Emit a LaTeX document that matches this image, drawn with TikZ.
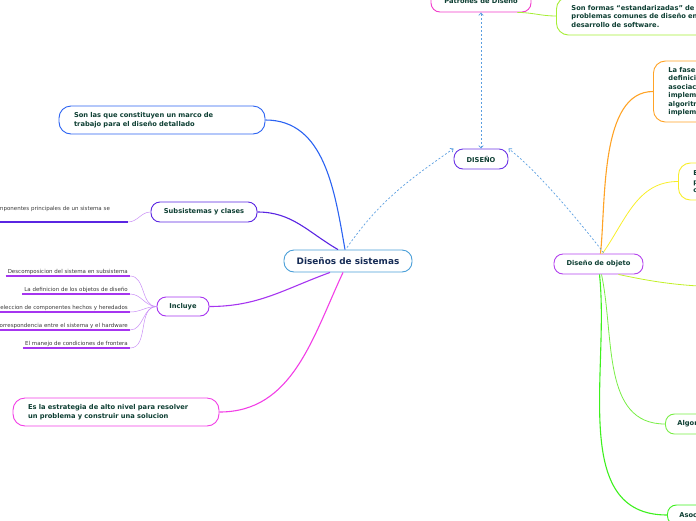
\documentclass[tikz,border=0pt]{standalone}
\usepackage{fontspec}
\setmainfont{DejaVu Sans}
\usepackage{xcolor}
\usepackage{tikz}
\usetikzlibrary{arrows.meta, positioning}

\definecolor{sysblue}{HTML}{4A9FD8}
\definecolor{navy}{HTML}{152B55}
\definecolor{topicgreen}{HTML}{0E3F33}
\definecolor{branchblue}{HTML}{2B63F2}
\definecolor{branchindigo}{HTML}{5A25E2}
\definecolor{branchviolet}{HTML}{A635F0}
\definecolor{leafviolet}{HTML}{C98EF6}
\definecolor{branchmagenta}{HTML}{F23EE6}
\definecolor{diseviolet}{HTML}{6C35E6}
\definecolor{patpink}{HTML}{F23BCB}
\definecolor{limegreen}{HTML}{A6EE35}
\definecolor{objviolet}{HTML}{B444EE}
\definecolor{faseorange}{HTML}{FFA326}
\definecolor{faseyellow}{HTML}{F8EE2A}
\definecolor{leaflime}{HTML}{C2F028}
\definecolor{algogreen}{HTML}{78EE45}
\definecolor{asocgreen}{HTML}{3EF01E}
\definecolor{dotblue}{HTML}{5A9EE0}
\definecolor{leafgray}{HTML}{3A3A3A}

\begin{document}
\begin{tikzpicture}[
    x=1pt, y=-1pt,
    topic/.style={draw, rounded corners=9pt, fill=white, line width=0.9pt,
                  inner sep=0pt, text=topicgreen,
                  font=\fontsize{6.7}{8.5}\selectfont\bfseries},
    main topic/.style={topic, draw=sysblue, text=navy, rounded corners=10pt,
                       font=\fontsize{8.9}{10}\selectfont\bfseries},
    note/.style={topic, rounded corners=12pt, align=left, inner xsep=15pt},
    leaf/.style={anchor=south east, inner xsep=2pt, inner ysep=1.5pt,
                 text=leafgray, font=\fontsize{5.5}{6.5}\selectfont},
    underline/.style={branchviolet, line width=1.3pt},
    branch/.style={line width=1.1pt},
    twig/.style={leafviolet, line width=0.5pt},
    link/.style={dotblue, line width=0.7pt, dash pattern=on 2pt off 2pt},
    tip/.style={-{Straight Barb[length=2.5pt, width=4.5pt]}}
  ]
    \useasboundingbox (0,0) rectangle (696,520);

    % Central topic
    \node[main topic, minimum width=128, minimum height=22] (sys) at (348,261)
      {Diseños de sistemas};

    % Left side
    \node[note, draw=branchblue, text width=176, minimum height=28] (marco) at (162,120)
      {Son las que constituyen un marco de\\trabajo para el diseño detallado};
    \node[topic, draw=branchindigo, minimum width=106, minimum height=20] (subsis) at (204,212)
      {Subsistemas y clases};
    \node[topic, draw=branchviolet, minimum width=52, minimum height=19] (incluye) at (183,306.5)
      {Incluye};
    \node[note, draw=branchmagenta, text width=176, minimum height=28] (estrategia) at (116,412)
      {Es la estrategia de alto nivel para resolver\\un problema y construir una solucion};

    % Leaves
    \node[leaf, inner ysep=10.5pt, text width=145, align=left] (L-0) at (128,222)
      {Los componentes principales de un sistema se};
    \node[leaf] (L-1) at (130,276) {Descomposicion del sistema en subsistema};
    \node[leaf] (L-2) at (130,294) {La definicion de los objetos de diseño};
    \node[leaf] (L-3) at (130,312) {Seleccion de componentes hechos y heredados};
    \node[leaf] (L-4) at (130,330) {Correspondencia entre el sistema y el hardware};
    \node[leaf] (L-5) at (130,348) {El manejo de condiciones de frontera};

    \draw[branchindigo, line width=1.3pt] (L-0.south west) -- (L-0.south east);
    \draw[twig] (L-0.south east) to[out=0, in=180] (subsis.west);
    \foreach \i in {1,...,5} {
      \draw[underline] (L-\i.south west) -- (L-\i.south east);
      \draw[twig] (L-\i.south east) to[out=0, in=180] (incluye.west);
    }

    % Right side
    \node[topic, draw=diseviolet, minimum width=54, minimum height=20] (diseno) at (481,159)
      {DISEÑO};
    \node[topic, draw=patpink, minimum width=100, minimum height=22] (patrones) at (481,1)
      {Patrones de Diseño};
    \node[note, draw=limegreen, anchor=west, text width=150, minimum height=38] (formas) at (556,16)
      {Son formas ``estandarizadas'' de\\problemas comunes de diseño en el\\desarrollo de software.};
    \node[topic, draw=objviolet, minimum width=89, minimum height=20] (objeto) at (598.5,264)
      {Diseño de objeto};
    \node[note, draw=faseorange, anchor=west, text width=150, minimum height=61,
          font=\fontsize{6.7}{8.4}\selectfont\bfseries] (fase) at (653,91.5)
      {La fase de diseño de objetos\\definición de las clases,\\asociaciones, interfaces,\\implementación de atributos,\\algoritmos para\\implementar operaciones};
    \node[note, draw=faseyellow, anchor=west, text width=120, minimum height=37] (detalle) at (678,181.5)
      {Es el diseño de\\patrones de cada\\clase};
    \coordinate (hidden) at (720,287);
    \node[topic, draw=algogreen, anchor=west, minimum height=20,
          inner xsep=12pt] (algor) at (665,424) {Algoritmos};
    \node[topic, draw=asocgreen, anchor=west, minimum height=20,
          inner xsep=12pt] (asoc) at (667,515) {Asociaciones};

    % Branches from the central topic
    \draw[branch, branchblue] ([xshift=-3]sys.north) to[out=100, in=0] (marco.east);
    \draw[branch, branchindigo] ([xshift=-10]sys.north) to[out=150, in=0] (subsis.east);
    \draw[branch, branchviolet] ([xshift=-18]sys.south) to[out=200, in=0] (incluye.east);
    \draw[branch, branchmagenta] ([xshift=-5]sys.south) to[out=245, in=0] (estrategia.east);

    % Branches from Diseño de objeto
    \draw[branch, faseorange] ([xshift=2]objeto.north) to[out=84, in=180, looseness=0.8] (fase.west);
    \draw[line width=0.8pt, faseyellow] ([xshift=4]objeto.north) to[out=55, in=180] (detalle.west);
    \draw[line width=0.8pt, leaflime] ([xshift=20]objeto.south) to[out=-12, in=178] (hidden);
    \draw[line width=0.8pt, algogreen] ([xshift=3]objeto.south) to[out=-78, in=180] (algor.west);
    \draw[branch, asocgreen] ([xshift=1]objeto.south) to[out=-84, in=180] (asoc.west);
    \draw[line width=0.8pt, limegreen] ([xshift=-14]patrones.south east) to[out=0, in=180] (formas.west);

    % Dotted relations to DISEÑO
    \draw[link, tip] ([xshift=-1,yshift=2]sys.north) to[out=55, in=215] (diseno.north west);
    \draw[link, tip] ([xshift=5,yshift=1]objeto.north) to[out=128, in=-38, looseness=0.7] (diseno.north east);
    \draw[link, {Straight Barb[length=2.5pt, width=4.5pt]}-{Straight Barb[length=2.5pt, width=4.5pt]}]
      (diseno.north) -- (patrones.south);
  \end{tikzpicture}
\end{document}
